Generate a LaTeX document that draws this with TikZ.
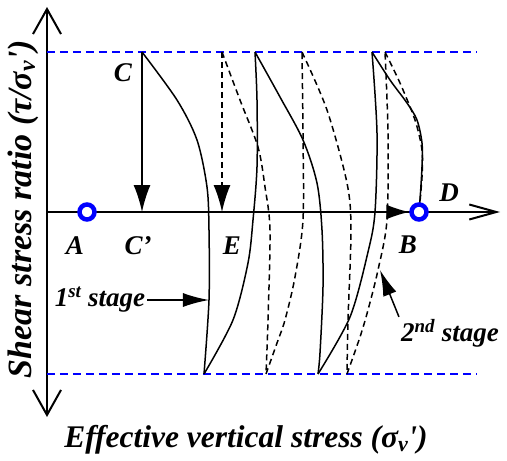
\documentclass[tikz,border=0pt]{standalone}
\usepackage{fontspec}
\setmainfont{Liberation Serif}
\usetikzlibrary{arrows.meta, positioning}

\begin{document}
\begin{tikzpicture}[x=10pt, y=10pt,
    font=\bfseries\itshape\fontsize{27}{30}\selectfont,
    axis/.style={line width=2pt},
    limit/.style={blue, line width=1.5pt, dash pattern=on 8pt off 5pt},
    stage1/.style={line width=1.5pt},
    stage2/.style={line width=1.5pt, dash pattern=on 6pt off 4pt},
    state/.style={circle, draw=blue, fill=white, line width=4.5pt,
        minimum size=15pt, inner sep=0pt},
    title/.style={font=\bfseries\itshape\fontsize{31.5}{34}\selectfont}]
    \useasboundingbox (-4.7,-24.9) rectangle (46,21.2);

    % axes
    \coordinate (O) at (0,0);
    \coordinate (ytop) at (0,20.5);
    \coordinate (ybot) at (0,-20.5);
    \coordinate (xend) at (45.3,0);
    \draw[axis, {Straight Barb[length=25pt,width=28pt]}-{Straight Barb[length=25pt,width=28pt]}]
        (ybot) -- (ytop);
    \draw[axis, -{Straight Barb[length=27pt,width=15pt]}] (O) -- (xend);

    % stress limits
    \draw[limit] (0,16) -- (43,16);
    \draw[limit] (0,-16.2) -- (43,-16.2);

    % 1st stage path
    \draw[stage1] plot[smooth] coordinates {(9.5,16) (13,11.2) (15,7.2) (16,2.5)
        (16.2,-1.8) (16.2,-8.8) (15.7,-16.2)};
    \draw[stage1] plot[smooth] coordinates {(15.7,-16.2) (18.6,-10.8) (20.1,-5.1)
        (20.6,-0.8) (21,4.5) (21,11.2) (20.8,16)};
    \draw[stage1] plot[smooth] coordinates {(20.8,16) (23.3,11.5) (25.6,7.2) (27,2.9)
        (27.5,-1.8) (27.6,-7.5) (27.3,-14.1) (27.1,-16.2)};
    \draw[stage1] plot[smooth] coordinates {(27.1,-16.2) (30.3,-10.5) (32.1,-4)
        (32.8,0) (33,7.9) (32.5,16)};
    \draw[stage1] plot[smooth] coordinates {(32.5,16) (34.3,13.2) (36,10.9) (37,9.2)
        (37.5,6.9) (37.5,4.5) (37.3,1.2) (37.2,0)};

    % 2nd stage path
    \draw[stage2] plot[smooth] coordinates {(17.5,16) (19.3,11.2) (21.1,6.5) (21.8,2.5)
        (22.3,-1.8) (22.1,-10.8) (21.9,-16.2)};
    \draw[stage2] plot[smooth] coordinates {(21.9,-16.2) (23,-13.1) (23.8,-10.8)
        (24.8,-6.5) (25.6,-0.8) (25.6,7.9) (25.5,16)};
    \draw[stage2] plot[smooth] coordinates {(25.5,16) (28,10.2) (30,2.9) (30.4,-1.8)
        (30.1,-10.8) (30,-16.2)};
    \draw[stage2] plot[smooth] coordinates {(30,-16.2) (31.3,-12.5) (32.1,-9.8)
        (33.1,-5.8) (34,-0.8) (34.1,7.9) (33.8,16)};
    \draw[stage2] plot[smooth] coordinates {(33.8,16) (35.3,12.9) (36.8,9.2)
        (37.5,6.2) (37.5,3.5) (37.2,0)};

    % unloading arrows
    \coordinate (Ctop) at (9.5,16);
    \coordinate (Cbot) at (9.5,0);
    \coordinate (Etop) at (17.5,16);
    \coordinate (Ebot) at (17.5,0);
    \draw[stage1, -{Latex[length=27pt,width=17pt]}] (Ctop) -- (Cbot);
    \draw[stage2, -{Latex[length=27pt,width=17pt]}] (Etop) -- (Ebot);

    % states
    \node[state] (A) at (4,0) {};
    \node[state] (B) at (37.2,0) {};
    \draw[stage1, -{Latex[length=23pt,width=15pt]}] (A) -- (B);

    \node (lC) at (7.6,13.9) {C};
    \node (lA) at (2.8,-3.4) {A};
    \node (lCp) at (9.1,-3.4) {C'};
    \node (lE) at (18.5,-3.4) {E};
    \node (lB) at (36.1,-3.3) {B};
    \node (lD) at (40.2,1.9) {D};

    % stage labels
    \node[inner sep=2pt] (s1) at (5.3,-8.8) {1\textsuperscript{st} stage};
    \coordinate (s1tip) at (16.2,-8.8);
    \draw[stage1, -{Latex[length=26pt,width=14pt]}] (s1) -- (s1tip);
    \node[inner sep=2pt] (s2) at (40.3,-12.1) {2\textsuperscript{nd} stage};
    \coordinate (s2tip) at (33.3,-5.8);
    \draw[stage1, -{Latex[length=26pt,width=14pt]}] (s2.north west) -- (s2tip);

    % axis titles
    \node[title, font=\bfseries\itshape\fontsize{34}{36}\selectfont, rotate=90] (ylab)
        at (-2.4,0.3) {Shear stress ratio (τ/σ\textsubscript{v}\textquotesingle)};
    \node[title] (xlab) at (19.9,-22.8)
        {Effective vertical stress (σ\textsubscript{v}\textquotesingle)};
\end{tikzpicture}
\end{document}
